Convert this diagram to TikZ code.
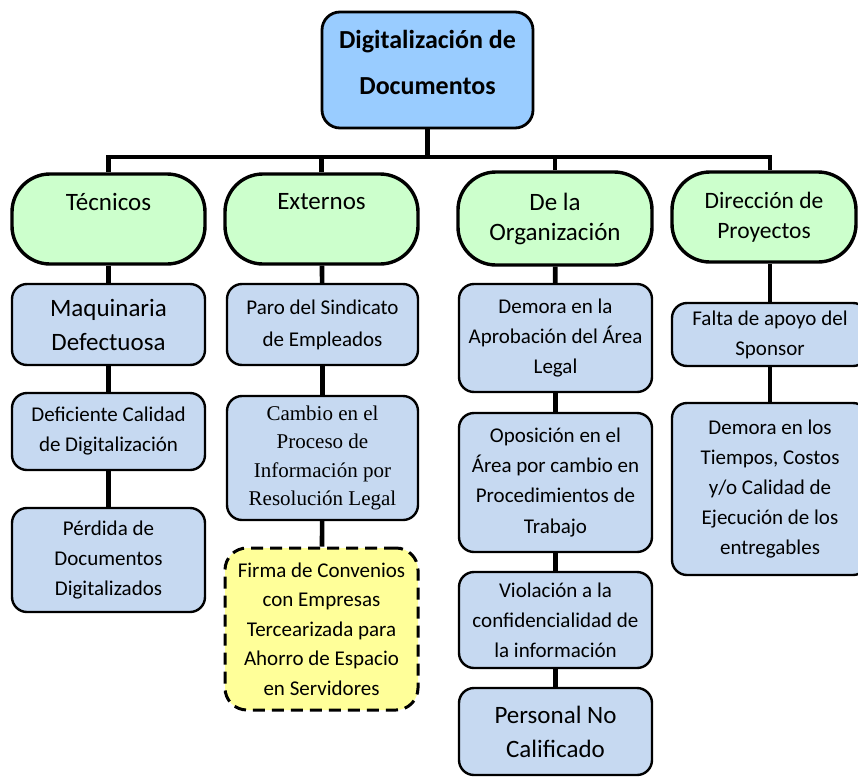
\documentclass[tikz,border=0pt]{standalone}
\usepackage{fontspec}
\setmainfont{Carlito}
\newfontfamily\timesfont{Liberation Serif}
\usepackage{tikz}

\definecolor{raizazul}{HTML}{99CCFF}
\definecolor{grupoverde}{HTML}{CCFFCC}
\definecolor{causaazul}{HTML}{C6D9F1}
\definecolor{notaamarilla}{HTML}{FFFF99}

\tikzset{
    raiz/.style={draw, line width=2.8pt, rounded corners=18pt, fill=raizazul, align=center,
        inner sep=0pt, font=\bfseries\fontsize{26}{46}\selectfont},
    grupo/.style={draw, line width=3.4pt, rounded corners=38pt, fill=grupoverde, align=center,
        inner sep=0pt, minimum height=90pt, font=\fontsize{25}{30}\selectfont},
    causa/.style={draw, line width=2.4pt, rounded corners=15pt, fill=causaazul, align=center,
        inner sep=0pt, font=\fontsize{21}{30}\selectfont},
    grande/.style={font=\fontsize{25}{34}\selectfont},
    enlace/.style={line width=4.6pt}
}

\begin{document}
\begin{tikzpicture}[x=1pt,y=-1pt]
    \useasboundingbox (0,0) rectangle (858,776);

    % Root of the tree
    \node[raiz, minimum width=211pt, minimum height=116pt, text depth=16pt] (raiz) at (427.5,70) {Digitalización de\\Documentos};

    % The four groups
    \node[grupo, minimum width=193pt] (tecnicos) at (108.5,219) {Técnicos\\\vphantom{Tg}};
    \node[grupo, minimum width=193pt] (externos) at (321.5,219) {Externos\\\vphantom{Tg}};
    \node[grupo, minimum width=194pt, minimum height=93pt] (organizacion) at (555,218.5) {De la\\Organización};
    \node[grupo, minimum width=184pt, font=\fontsize{23.5}{30}\selectfont] (direccion) at (764,217) {Dirección de\\Proyectos};

    % Causes under Tecnicos
    \node[causa, grande, minimum width=193pt, minimum height=81pt] (maquinaria) at (108.5,324.5) {Maquinaria\\Defectuosa};
    \node[causa, minimum width=193pt, minimum height=77pt] (deficiente) at (108.5,431.5) {Deficiente Calidad\\de Digitalización};
    \node[causa, minimum width=193pt, minimum height=104pt] (perdida) at (108.5,560) {Pérdida de\\Documentos\\Digitalizados};

    % Causes under Externos
    \node[causa, minimum width=191pt, minimum height=81pt, font=\fontsize{21}{32}\selectfont] (paro) at (322.5,324.5) {Paro del Sindicato\\de Empleados};
    \node[causa, minimum width=191pt, minimum height=124pt, font=\timesfont\fontsize{21}{28.5}\selectfont] (cambio) at (322.5,458) {Cambio en el\\Proceso de\\Información por\\Resolución Legal};
    \node[causa, minimum width=193pt, minimum height=162pt, fill=notaamarilla, line width=3pt,
        dash pattern=on 12pt off 7pt, rounded corners=22pt, font=\fontsize{21}{29.5}\selectfont] (firma) at (321.5,629)
        {Firma de Convenios\\con Empresas\\Tercearizada para\\Ahorro de Espacio\\en Servidores};

    % Causes under De la Organizacion
    \node[causa, minimum width=193pt, minimum height=108pt] (demora) at (555.5,338) {Demora en la\\Aprobación del Área\\Legal};
    \node[causa, minimum width=193pt, minimum height=139pt] (oposicion) at (555.5,482.5) {Oposición en el\\Área por cambio en\\Procedimientos de\\Trabajo};
    \node[causa, minimum width=193pt, minimum height=96pt] (violacion) at (555.5,620) {Violación a la\\confidencialidad de\\la información};
    \node[causa, grande, minimum width=193pt, minimum height=87pt] (personal) at (555.5,731.5) {Personal No\\Calificado};

    % Causes under Direccion de Proyectos
    \node[causa, minimum width=196pt, minimum height=63pt] (falta) at (770,334.5) {Falta de apoyo del\\Sponsor};
    \node[causa, minimum width=196pt, minimum height=172pt] (tiempos) at (770,489) {Demora en los\\Tiempos, Costos\\y/o Calidad de\\Ejecución de los\\entregables};

    % Draw the bus from the root to the groups
    \coordinate (bus) at (427.5,157);
    \draw[enlace] (raiz) -- (bus);
    \foreach \g in {tecnicos,externos,organizacion} {
        \draw[enlace] (\g.north) |- (bus);
    }
    \draw[enlace] (falta.north |- direccion.north) |- (bus);

    % Draw the chains of causes
    \foreach \a/\b in {tecnicos/maquinaria, maquinaria/deficiente, deficiente/perdida,
        externos/paro, paro/cambio, cambio/firma,
        organizacion/demora, demora/oposicion, oposicion/violacion, violacion/personal,
        falta/tiempos} {
        \draw[enlace] (\a) -- (\b);
    }
    \draw[enlace] (falta.north) -- (falta.north |- direccion.south);

\end{tikzpicture}
\end{document}
